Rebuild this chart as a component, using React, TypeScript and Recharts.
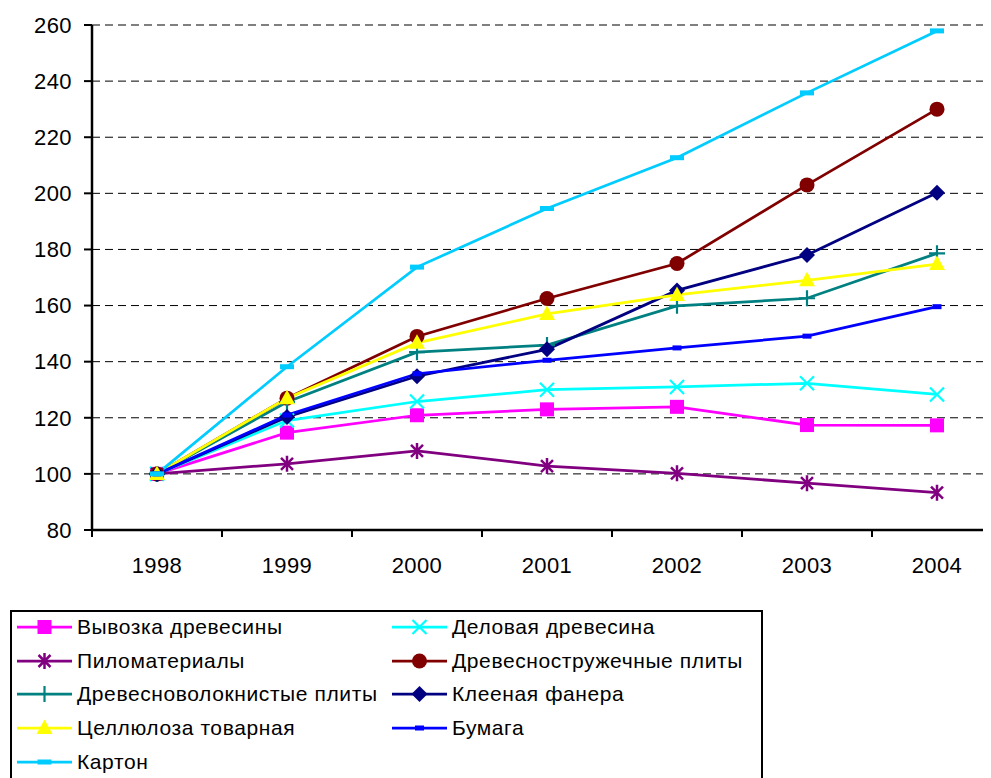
import React from "react";
import { LineChart, Line, XAxis, YAxis, CartesianGrid } from "recharts";

// index values, 1998 = 100
const years = ["1998", "1999", "2000", "2001", "2002", "2003", "2004"];
const vyvozka = [100, 114.7, 120.9, 123, 123.9, 117.4, 117.3];
const delovaya = [100, 119, 125.8, 130, 131, 132.3, 128.3];
const pilomaterialy = [100, 103.6, 108.2, 102.8, 100.2, 96.7, 93.3];
const dsp = [100, 127, 149, 162.5, 175, 203, 230];
const dvp = [100, 125.6, 143.4, 145.9, 159.9, 162.6, 178.6];
const fanera = [100, 120.3, 134.8, 144.4, 165.4, 178, 200.2];
const cellulose = [100, 127, 146.7, 157, 163.8, 169, 174.8];
const paper = [100, 121, 135.7, 140.5, 144.9, 149.1, 159.6];
const karton = [100, 138.2, 173.7, 194.6, 212.7, 235.8, 257.9];
const yTicks = [80, 100, 120, 140, 160, 180, 200, 220, 240, 260];

type MarkerKind =
  | "square"
  | "x"
  | "star"
  | "circle"
  | "plus"
  | "diamond"
  | "triangle"
  | "dashSmall"
  | "dashWide";

const series: { key: string; name: string; color: string; marker: MarkerKind; values: number[] }[] = [
  { key: "vyvozka", name: "Вывозка древесины", color: "#FF00FF", marker: "square", values: vyvozka },
  { key: "delovaya", name: "Деловая древесина", color: "#00FFFF", marker: "x", values: delovaya },
  { key: "pilomat", name: "Пиломатериалы", color: "#800080", marker: "star", values: pilomaterialy },
  { key: "dsp", name: "Древесностружечные плиты", color: "#800000", marker: "circle", values: dsp },
  { key: "dvp", name: "Древесноволокнистые плиты", color: "#008080", marker: "plus", values: dvp },
  { key: "fanera", name: "Клееная фанера", color: "#000080", marker: "diamond", values: fanera },
  { key: "cellulose", name: "Целлюлоза товарная", color: "#FFFF00", marker: "triangle", values: cellulose },
  { key: "paper", name: "Бумага", color: "#0000FF", marker: "dashSmall", values: paper },
  { key: "karton", name: "Картон", color: "#00CCFF", marker: "dashWide", values: karton },
];

const data = years.map((year, i) => {
  const row: Record<string, string | number> = { year };
  series.forEach((s) => {
    row[s.key] = s.values[i];
  });
  return row;
});

function Marker({ kind, cx, cy, color }: { kind: MarkerKind; cx: number; cy: number; color: string }) {
  if (cx == null || cy == null) return null;
  switch (kind) {
    case "square":
      return <rect x={cx - 7} y={cy - 7} width={14} height={14} fill={color} />;
    case "x":
      return (
        <path
          d={`M${cx - 7},${cy - 7}L${cx + 7},${cy + 7}M${cx + 7},${cy - 7}L${cx - 7},${cy + 7}`}
          stroke={color}
          strokeWidth={2.2}
          fill="none"
        />
      );
    case "star":
      return (
        <path
          d={`M${cx - 6},${cy - 6}L${cx + 6},${cy + 6}M${cx + 6},${cy - 6}L${cx - 6},${cy + 6}M${cx},${cy - 8}L${cx},${cy + 8}`}
          stroke={color}
          strokeWidth={2.5}
          fill="none"
        />
      );
    case "circle":
      return <circle cx={cx} cy={cy} r={7.5} fill={color} />;
    case "plus":
      return (
        <path
          d={`M${cx - 8},${cy}L${cx + 8},${cy}M${cx},${cy - 8}L${cx},${cy + 8}`}
          stroke={color}
          strokeWidth={2.2}
          fill="none"
        />
      );
    case "diamond":
      return (
        <path
          d={`M${cx},${cy - 8}L${cx + 8},${cy}L${cx},${cy + 8}L${cx - 8},${cy}Z`}
          fill={color}
        />
      );
    case "triangle":
      return (
        <path d={`M${cx},${cy - 8.5}L${cx + 8},${cy + 6}L${cx - 8},${cy + 6}Z`} fill={color} />
      );
    case "dashSmall":
      return <rect x={cx - 4.5} y={cy - 2.5} width={9} height={5} fill={color} />;
    case "dashWide":
      return <rect x={cx - 7} y={cy - 2.5} width={14} height={5} fill={color} />;
  }
  return null;
}

const HALF_BAND = 65;

function XTick(props: any) {
  const { x, y, payload, index } = props;
  const last = index === years.length - 1;
  return (
    <g>
      <line x1={x - HALF_BAND} y1={y} x2={x - HALF_BAND} y2={y + 7} stroke="#000" strokeWidth={2} />
      {last && (
        <line x1={x + HALF_BAND} y1={y} x2={x + HALF_BAND} y2={y + 7} stroke="#000" strokeWidth={2} />
      )}
      <text x={x} y={y + 43} textAnchor="middle" fontSize={22} fill="#000" letterSpacing={0.4}>
        {payload.value}
      </text>
    </g>
  );
}

function LegendBox() {
  return (
    <div
      style={{
        position: "absolute",
        left: 2,
        top: 602,
        width: 749,
        height: 170,
        border: "2px solid #000",
        background: "#fff",
      }}
    >
      <div
        style={{
          display: "grid",
          gridTemplateColumns: "375px 1fr",
          gridAutoRows: "33.8px",
          marginTop: -2,
        }}
      >
        {series.map((s) => (
          <div
            key={s.key}
            style={{
              display: "flex",
              alignItems: "center",
              paddingLeft: 5,
              fontSize: 21,
              letterSpacing: 0.6,
              color: "#000",
              whiteSpace: "nowrap",
            }}
          >
            <svg width={55} height={20} style={{ marginRight: 5, flex: "none" }}>
              <line x1={0} y1={10} x2={55} y2={10} stroke={s.color} strokeWidth={2.75} />
              <Marker kind={s.marker} cx={27.5} cy={10} color={s.color} />
            </svg>
            <span>{s.name}</span>
          </div>
        ))}
      </div>
    </div>
  );
}

export default function App() {
  return (
    <div
      style={{
        position: "relative",
        width: 983,
        height: 770,
        overflow: "hidden",
        fontFamily: '"Liberation Sans", Arial, sans-serif',
        background: "#fff",
      }}
    >
      <LineChart width={1010} height={600} data={data} margin={{ top: 17, right: 16, bottom: 18, left: 0 }}>
        <CartesianGrid vertical={false} stroke="#000" strokeDasharray="8 5" strokeWidth={1} />
        <XAxis
          dataKey="year"
          scale="band"
          height={60}
          tickSize={0}
          tickMargin={0}
          tickLine={false}
          axisLine={{ stroke: "#000", strokeWidth: 2.5 }}
          tick={<XTick />}
          interval={0}
        />
        <YAxis
          type="number"
          domain={[80, 260]}
          ticks={yTicks}
          interval={0}
          width={84}
          tickSize={8}
          tickMargin={12}
          tickLine={{ stroke: "#000", strokeWidth: 2 }}
          axisLine={{ stroke: "#000", strokeWidth: 2.5 }}
          tick={{ fontSize: 22, fill: "#000", letterSpacing: 0.4 }}
        />
        {series.map((s) => (
          <Line
            key={s.key}
            type="linear"
            dataKey={s.key}
            name={s.name}
            stroke={s.color}
            strokeWidth={2.75}
            dot={(p: any) => (
              <Marker key={`${s.key}-${p.index}`} kind={s.marker} cx={p.cx} cy={p.cy} color={s.color} />
            )}
            activeDot={false}
            isAnimationActive={false}
          />
        ))}
      </LineChart>
      <LegendBox />
    </div>
  );
}
